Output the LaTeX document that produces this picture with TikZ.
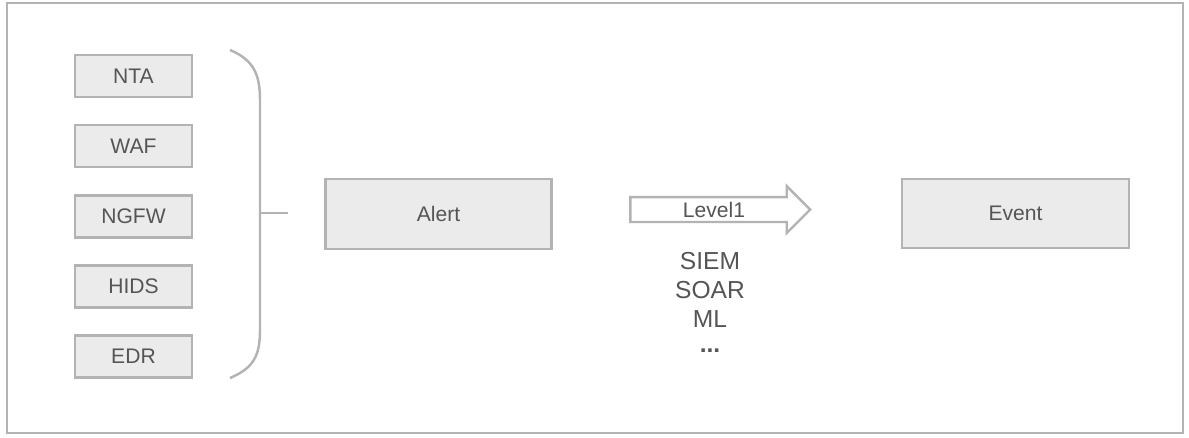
\documentclass[tikz,border=0pt]{standalone}
\usepackage{fontspec}
\setmainfont{Liberation Sans}
\usetikzlibrary{shapes.arrows}
\definecolor{edgegray}{HTML}{B3B3B3}
\definecolor{boxgray}{HTML}{EBEBEB}
\definecolor{txtgray}{HTML}{555555}
\tikzset{
	srcbox/.style={draw=edgegray, fill=boxgray, line width=1.4pt, minimum width=2.34cm, minimum height=0.84cm, text=txtgray, font=\fontsize{12}{14}\selectfont},
	bigbox/.style={srcbox, minimum width=4.52cm, minimum height=1.39cm}
}
\begin{document}
\begin{tikzpicture}[x=0.02cm, y=-0.02cm]
	\useasboundingbox (0,0) rectangle (1189,437);
	\draw[edgegray, line width=1.2pt](7,3) rectangle (1183,433);
	\node[srcbox] (nta) at (133.5,76) {NTA};
	\node[srcbox] (waf) at (133.5,146) {WAF};
	\node[srcbox] (ngfw) at (133.5,216.5) {NGFW};
	\node[srcbox] (hids) at (133.5,286.5) {HIDS};
	\node[srcbox] (edr) at (133.5,356.5) {EDR};
	\draw[edgegray, line width=1.4pt](230,50) .. controls (254,60) and (260,75) .. (260,100)--(260,330) .. controls (260,355) and (254,368) .. (230,378);
	\draw[edgegray, line width=1.4pt](260,213)--(288,213);
	\node[bigbox] (alert) at (438.5,214) {Alert};
	\node[bigbox, minimum width=4.54cm] (event) at (1015.5,213.5) {Event};
	\node[single arrow, draw=edgegray, fill=white, line width=1.4pt, text=txtgray, font=\fontsize{12}{14}\selectfont,
		minimum height=3.6cm, minimum width=0.5cm, inner xsep=1pt, inner ysep=2pt, single arrow head extend=0.22cm] (level) at (714,209.5) {Level1};
	\node[text=txtgray, align=center, anchor=north, inner sep=0pt, font=\fontsize{14}{16.5}\selectfont] (tools) at (710,252) {SIEM\\SOAR\\ML\\\raisebox{2.5pt}{\textbf{...}}};
\end{tikzpicture}
\end{document}
